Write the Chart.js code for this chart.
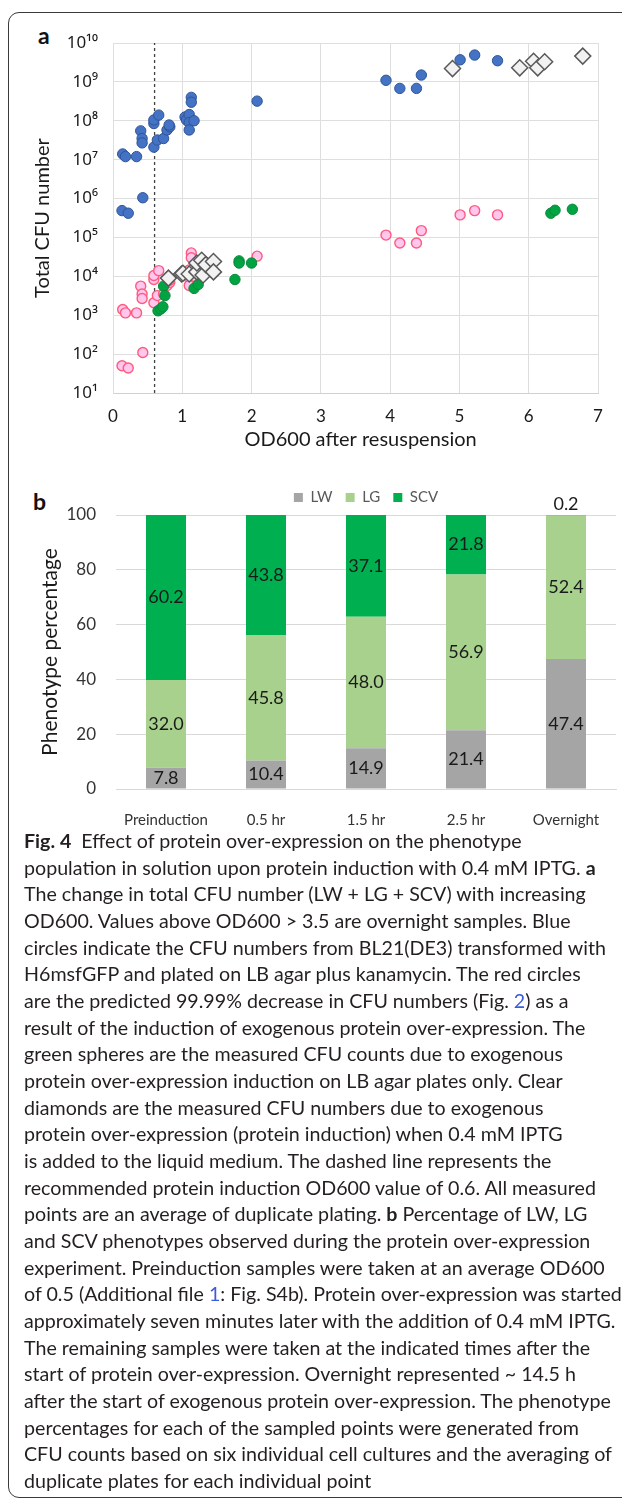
<!DOCTYPE html>
<html>
<head>
<meta charset="utf-8">
<script src="https://cdn.jsdelivr.net/npm/chart.js@4.4.1/dist/chart.umd.min.js"></script>
<style>
  html, body { margin: 0; padding: 0; background: #fff; }
  body { position: relative; width: 622px; height: 1501px; overflow: hidden; }
  .frame {
    position: absolute; left: 8px; top: 12px; width: 720px; height: 1486px;
    border: 1.3px solid #3a3a3a; border-radius: 11px; box-sizing: border-box;
  }
  .panel-label { position: absolute; font: bold 23px Lato, "Noto Sans", sans-serif; color: #111; }
  #cfuCanvas { position: absolute; left: 0; top: 0; }
  #phenoCanvas { position: absolute; left: 0; top: 470px; }
  #caption {
    position: absolute; left: 24px; top: 828px;
    font-family: Lato, "Noto Sans", sans-serif; font-size: 19px; line-height: 26.67px;
    color: #231f20; transform-origin: 0 0; white-space: nowrap;
  }
  #caption b { font-weight: bold; }
  #caption .ref { color: #3b5bdb; }
</style>
</head>
<body>
<div class="frame"></div>
<div class="panel-label" style="left:38px; top:21px;">a</div>
<div class="panel-label" style="left:33px; top:487px;">b</div>
<canvas id="cfuCanvas" width="622" height="460"></canvas>
<canvas id="phenoCanvas" width="622" height="360"></canvas>

<div id="caption">
  <div><b>Fig. 4</b>&nbsp; Effect of protein over-expression on the phenotype</div>
  <div>population in solution upon protein induction with 0.4 mM IPTG. <b>a</b></div>
  <div>The change in total CFU number (LW + LG + SCV) with increasing</div>
  <div>OD600. Values above OD600 &gt; 3.5 are overnight samples. Blue</div>
  <div>circles indicate the CFU numbers from BL21(DE3) transformed with</div>
  <div>H6msfGFP and plated on LB agar plus kanamycin. The red circles</div>
  <div>are the predicted 99.99% decrease in CFU numbers (Fig. <span class="ref">2</span>) as a</div>
  <div>result of the induction of exogenous protein over-expression. The</div>
  <div>green spheres are the measured CFU counts due to exogenous</div>
  <div>protein over-expression induction on LB agar plates only. Clear</div>
  <div>diamonds are the measured CFU numbers due to exogenous</div>
  <div>protein over-expression (protein induction) when 0.4 mM IPTG</div>
  <div>is added to the liquid medium. The dashed line represents the</div>
  <div>recommended protein induction OD600 value of 0.6. All measured</div>
  <div>points are an average of duplicate plating. <b>b</b> Percentage of LW, LG</div>
  <div>and SCV phenotypes observed during the protein over-expression</div>
  <div>experiment. Preinduction samples were taken at an average OD600</div>
  <div>of 0.5 (Additional file <span class="ref">1</span>: Fig. S4b). Protein over-expression was started</div>
  <div>approximately seven minutes later with the addition of 0.4 mM IPTG.</div>
  <div>The remaining samples were taken at the indicated times after the</div>
  <div>start of protein over-expression. Overnight represented ~ 14.5 h</div>
  <div>after the start of exogenous protein over-expression. The phenotype</div>
  <div>percentages for each of the sampled points were generated from</div>
  <div id="fitLine">CFU counts based on six individual cell cultures and the averaging of</div>
  <div>duplicate plates for each individual point</div>
</div>

<script>
const FONT = 'Lato, "Noto Sans", sans-serif';
const SUP_FONT = '"Noto Sans", "DejaVu Sans", sans-serif';

// --- Pannello a: CFU totali vs OD600 ---
const bluePoints = [
  [0.13, 4.9e5], [0.22, 4.2e5], [0.43, 1.05e6],
  [0.14, 1.4e7], [0.18, 1.2e7], [0.34, 1.2e7],
  [0.40, 5.5e7], [0.42, 3.5e7], [0.42, 2.7e7],
  [0.59, 2.1e7], [0.59, 8.5e7], [0.59, 1.05e8], [0.66, 1.4e8],
  [0.64, 3.2e7], [0.73, 3.5e7], [0.78, 5.8e7], [0.82, 7.0e7], [0.81, 7.8e7],
  [1.04, 1.25e8], [1.06, 1.05e8], [1.10, 1.45e8], [1.10, 9.0e7], [1.10, 5.8e7],
  [1.17, 1.0e8], [1.13, 4.0e8], [1.13, 3.0e8],
  [2.08, 3.2e8],
  [3.94, 1.1e9], [4.14, 6.8e8], [4.38, 6.8e8], [4.45, 1.5e9],
  [5.01, 3.7e9], [5.22, 4.9e9], [5.55, 3.5e9]
];
const pinkPoints = [
  [0.13, 50], [0.22, 44], [0.43, 110],
  [0.14, 1400], [0.18, 1150], [0.34, 1150],
  [0.40, 5600], [0.42, 3500], [0.42, 2700],
  [0.59, 2100], [0.59, 8300], [0.59, 10500], [0.66, 14000],
  [0.64, 3200], [0.73, 3500], [0.78, 5800], [0.82, 7000], [0.81, 7800],
  [1.04, 12500], [1.06, 10500], [1.10, 14500], [1.10, 9000], [1.10, 5800],
  [1.17, 10000], [1.13, 40000], [1.13, 30000],
  [2.08, 33000],
  [3.94, 115000], [4.14, 72000], [4.38, 72000], [4.45, 150000],
  [5.01, 380000], [5.22, 490000], [5.55, 380000]
];
const greenPoints = [
  [0.65, 1300], [0.69, 1450], [0.72, 1650], [0.73, 5600], [0.75, 3200],
  [1.17, 4900], [1.23, 6200], [1.76, 8300], [1.82, 25000], [1.82, 22000], [2.00, 22000],
  [6.32, 420000], [6.38, 500000], [6.63, 530000]
];
const diamondPoints = [
  [0.80, 9000], [0.99, 11500], [1.01, 12000], [1.10, 11500], [1.21, 13000],
  [1.21, 22000], [1.28, 26000], [1.30, 10800], [1.34, 20000], [1.45, 24000], [1.45, 13000],
  [4.90, 2.2e9], [5.87, 2.3e9], [6.07, 3.4e9], [6.13, 2.3e9], [6.23, 3.3e9], [6.78, 4.6e9]
];
const inductionOD = 0.6;
const cfuTicks = [1e1, 1e2, 1e3, 1e4, 1e5, 1e6, 1e7, 1e8, 1e9, 1e10];
const odTicks = [0, 1, 2, 3, 4, 5, 6, 7];

// --- Pannello b: percentuali dei fenotipi ---
const phaseLabels = ['Preinduction', '0.5 hr', '1.5 hr', '2.5 hr', 'Overnight'];
const lwValues = [7.8, 10.4, 14.9, 21.4, 47.4];
const lgValues = [32.0, 45.8, 48.0, 56.9, 52.4];
const scvValues = [60.2, 43.8, 37.1, 21.8, 0.2];
const percentTicks = [0, 20, 40, 60, 80, 100];

const SUP = { '0': '⁰', '1': '¹', '2': '²', '3': '³', '4': '⁴', '5': '⁵', '6': '⁶', '7': '⁷', '8': '⁸', '9': '⁹' };
function powerLabel(v) {
  const e = Math.round(Math.log10(v));
  return '10' + String(e).split('').map(d => SUP[d]).join('');
}
const toXY = arr => arr.map(p => ({ x: p[0], y: p[1] }));

Chart.defaults.font.family = FONT;
Chart.defaults.animation = false;

new Chart(document.getElementById('cfuCanvas'), {
  type: 'scatter',
  data: {
    datasets: [
      {
        label: 'Clear diamonds',
        data: toXY(diamondPoints),
        pointStyle: 'rectRot',
        pointRadius: 8,
        backgroundColor: '#f2f2f2',
        borderColor: '#595959',
        borderWidth: 1.5,
        order: 1
      },
      {
        label: 'Green',
        data: toXY(greenPoints),
        pointRadius: 5.2,
        backgroundColor: '#00a443',
        borderColor: '#0a8a3a',
        borderWidth: 1,
        order: 2
      },
      {
        label: 'Red',
        data: toXY(pinkPoints),
        pointRadius: 5,
        backgroundColor: '#ffc6ee',
        borderColor: '#ff5a7e',
        borderWidth: 1.4,
        order: 3
      },
      {
        label: 'Blue',
        data: toXY(bluePoints),
        pointRadius: 5.2,
        backgroundColor: '#4472c4',
        borderColor: '#2f5597',
        borderWidth: 1,
        order: 4
      },
      {
        // linea tratteggiata OD600 = 0.6
        type: 'line',
        label: 'Induction OD600',
        data: [{ x: inductionOD, y: cfuTicks[0] }, { x: inductionOD, y: cfuTicks[cfuTicks.length - 1] }],
        borderColor: '#404040',
        borderWidth: 1.3,
        borderDash: [3, 3],
        pointRadius: 0,
        showLine: true,
        order: 5
      }
    ]
  },
  options: {
    responsive: false,
    layout: { padding: { left: 0, right: 24, top: 43, bottom: 7 } },
    plugins: { legend: { display: false }, tooltip: { enabled: false } },
    scales: {
      x: {
        type: 'linear',
        min: 0, max: 7,
        afterBuildTicks: s => { s.ticks = odTicks.map(v => ({ value: v })); },
        afterFit: s => { s.height = 60; },
        grid: { color: '#dedede', drawTicks: false },
        border: { color: '#d0d0d0' },
        ticks: { padding: 13, color: '#1a1a1a', font: { family: FONT, size: 17 } },
        title: {
          display: true, text: '  OD600 after resuspension', color: '#1a1a1a',
          font: { family: FONT, size: 20 }, padding: { bottom: 1 }
        }
      },
      y: {
        type: 'logarithmic',
        min: 10, max: 1e10,
        afterBuildTicks: s => { s.ticks = cfuTicks.map(v => ({ value: v })); },
        afterFit: s => { s.width = 113; },
        grid: { color: '#dedede', drawTicks: false },
        border: { color: '#dedede' },
        ticks: { padding: 15, color: '#1a1a1a', font: { family: SUP_FONT, size: 17 }, callback: v => powerLabel(v) },
        title: {
          display: true, text: 'Total CFU number', color: '#1a1a1a',
          font: { family: FONT, size: 20 }, padding: { top: 31 }
        }
      }
    }
  }
});

// etichette dentro i segmenti delle barre
const barLabels = {
  id: 'barLabels',
  afterDatasetsDraw(chart) {
    const ctx = chart.ctx;
    ctx.save();
    ctx.font = '18px ' + FONT;
    ctx.fillStyle = '#1a1a1a';
    ctx.textAlign = 'center';
    ctx.textBaseline = 'middle';
    chart.data.datasets.forEach((ds, i) => {
      chart.getDatasetMeta(i).data.forEach((bar, j) => {
        const v = ds.data[j];
        const y = v < 2 ? bar.y - 11 : (bar.y + bar.base) / 2;
        ctx.fillText(v.toFixed(1), bar.x, y);
      });
    });
    ctx.restore();
  }
};

new Chart(document.getElementById('phenoCanvas'), {
  type: 'bar',
  data: {
    labels: phaseLabels,
    datasets: [
      { label: 'LW', data: lwValues, backgroundColor: '#a5a5a5' },
      { label: 'LG', data: lgValues, backgroundColor: '#a9d18e' },
      { label: 'SCV', data: scvValues, backgroundColor: '#00b050' }
    ]
  },
  options: {
    responsive: false,
    layout: { padding: { left: 0, right: 6, top: 7, bottom: 1 } },
    datasets: { bar: { categoryPercentage: 0.8, barPercentage: 0.5 } },
    plugins: {
      tooltip: { enabled: false },
      legend: {
        position: 'top',
        fullSize: false,
        labels: { boxWidth: 9, boxHeight: 9, padding: 13, color: '#595959', font: { family: FONT, size: 15 } }
      }
    },
    scales: {
      x: {
        stacked: true,
        afterFit: s => { s.height = 40; },
        grid: { display: false },
        border: { color: '#d9d9d9' },
        ticks: { padding: 14, color: '#333', font: { family: FONT, size: 15 } }
      },
      y: {
        stacked: true,
        min: 0, max: 100,
        afterBuildTicks: s => { s.ticks = percentTicks.map(v => ({ value: v })); },
        afterFit: s => { s.width = 116; },
        grid: { color: '#d9d9d9', drawTicks: false },
        border: { display: false },
        ticks: { padding: 20, color: '#333', font: { family: FONT, size: 17 } },
        title: {
          display: true, text: 'Phenotype percentage', color: '#1a1a1a',
          font: { family: FONT, size: 21 }, padding: { top: 38 }
        }
      }
    }
  },
  plugins: [barLabels]
});

// adatta la larghezza della didascalia
function fitCaption() {
  const cap = document.getElementById('caption');
  const line = document.getElementById('fitLine');
  const span = document.createElement('span');
  span.textContent = line.textContent;
  line.textContent = '';
  line.appendChild(span);
  const real = span.getBoundingClientRect().width;
  if (real > 0) cap.style.transform = 'scaleX(' + (588 / real) + ')';
}
fitCaption();
</script>
</body>
</html>
